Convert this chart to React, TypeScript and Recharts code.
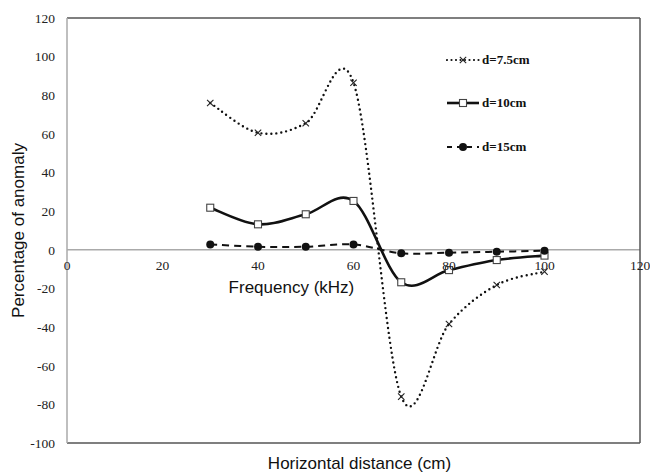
import {
	LineChart,
	Line,
	XAxis,
	YAxis,
	ReferenceLine,
	ReferenceDot,
} from 'recharts';

// frequency points along the horizontal axis
const freqs = [30, 40, 50, 60, 70, 80, 90, 100];
// percentage of anomaly for each depth
const d75 = [76, 60.6, 65.5, 86.5, -76, -38.4, -18.2, -11.3];
const d10 = [21.8, 13.2, 18.4, 25.3, -16.8, -10.5, -5.3, -3];
const d15 = [2.8, 1.6, 1.6, 2.8, -1.8, -1.5, -1, -0.5];

const seriesNames = ['d=7.5cm', 'd=10cm', 'd=15cm'];
const xTicks = [0, 20, 40, 60, 80, 100, 120];
const yTicks = [-100, -80, -60, -40, -20, 0, 20, 40, 60, 80, 100, 120];

const chartData = freqs.map((f, i) => ({
	freq: f,
	d75: d75[i],
	d10: d10[i],
	d15: d15[i],
}));

const serif = '"Liberation Serif", "Times New Roman", serif';
const sans = '"Liberation Sans", Arial, sans-serif';

// Excel style smoothed line: bezier with control points at 1/6 of neighbour span
function excelCurve(context: any) {
	let xs: number[] = [];
	let ys: number[] = [];
	return {
		areaStart() {},
		areaEnd() {},
		lineStart() {
			xs = [];
			ys = [];
		},
		point(x: number, y: number) {
			xs.push(+x);
			ys.push(+y);
		},
		lineEnd() {
			const n = xs.length;
			if (!n) return;
			context.moveTo(xs[0], ys[0]);
			for (let i = 0; i < n - 1; i++) {
				const a = Math.max(i - 1, 0);
				const b = Math.min(i + 2, n - 1);
				context.bezierCurveTo(
					xs[i] + (xs[i + 1] - xs[a]) / 6,
					ys[i] + (ys[i + 1] - ys[a]) / 6,
					xs[i + 1] - (xs[b] - xs[i]) / 6,
					ys[i + 1] - (ys[b] - ys[i]) / 6,
					xs[i + 1],
					ys[i + 1]
				);
			}
		},
	};
}

const CrossDot = (props: any) => {
	const { cx, cy } = props;
	if (cx == null || cy == null) return null;
	const s = 3.2;
	return (
		<g key={`x-${props.index}`}>
			<line x1={cx - s} y1={cy - s} x2={cx + s} y2={cy + s} stroke="#222" strokeWidth={1.1} />
			<line x1={cx - s} y1={cy + s} x2={cx + s} y2={cy - s} stroke="#222" strokeWidth={1.1} />
		</g>
	);
};

const SquareDot = (props: any) => {
	const { cx, cy } = props;
	if (cx == null || cy == null) return null;
	return (
		<rect
			key={`s-${props.index}`}
			x={cx - 3.5}
			y={cy - 3.5}
			width={7}
			height={7}
			fill="#fff"
			stroke="#444"
			strokeWidth={1.1}
		/>
	);
};

const CircleDot = (props: any) => {
	const { cx, cy } = props;
	if (cx == null || cy == null) return null;
	return <circle key={`c-${props.index}`} cx={cx} cy={cy} r={4} fill="#111" />;
};

const legendStyle = [
	{ dash: '0 4.5', width: 2.2, cap: 'round', Marker: CrossDot },
	{ dash: undefined, width: 2.6, cap: 'butt', Marker: SquareDot },
	{ dash: '5 5', width: 2, cap: 'butt', Marker: CircleDot },
];

const ChartLegend = () => (
	<div
		style={{
			position: 'absolute',
			left: 446,
			top: 38,
			fontFamily: serif,
			fontWeight: 'bold',
			fontSize: 13,
			color: '#111',
		}}
	>
		{seriesNames.map((name, i) => {
			const st = legendStyle[i];
			const M = st.Marker;
			return (
				<div key={name} style={{ display: 'flex', alignItems: 'center', height: 43.5 }}>
					<svg width={34} height={12} style={{ marginRight: 2 }}>
						<line
							x1={1}
							x2={33}
							y1={6}
							y2={6}
							stroke="#111"
							strokeWidth={st.width}
							strokeDasharray={st.dash}
							strokeLinecap={st.cap as any}
						/>
						<M cx={17} cy={6} index={0} />
					</svg>
					<span>{name}</span>
				</div>
			);
		})}
	</div>
);

export default function App() {
	return (
		<div style={{ position: 'absolute', left: 0, top: 0, width: 650, height: 472, background: '#fff' }}>
			<LineChart
				width={650}
				height={472}
				data={chartData}
				margin={{ top: 18, right: 10, bottom: 0, left: 0 }}
			>
				<XAxis
					dataKey="freq"
					type="number"
					domain={[0, 120]}
					ticks={xTicks}
					tick={false}
					tickLine={false}
					height={29}
					stroke="#555"
					axisLine={{ stroke: '#555', strokeWidth: 1.5 }}
					label={{
						value: 'Horizontal distance (cm)',
						position: 'insideBottom',
						offset: 3,
						dx: 6,
						style: { fontFamily: sans, fontSize: 17, fill: '#111' },
					}}
				/>
				<YAxis
					type="number"
					domain={[-100, 120]}
					ticks={yTicks}
					width={67}
					tickLine={false}
					tickSize={0}
					tickMargin={12}
					axisLine={{ stroke: '#aaa', strokeWidth: 1.5 }}
					tick={{ fontFamily: serif, fontSize: 13.5, fill: '#222' }}
					label={{
						value: 'Percentage of anomaly',
						angle: -90,
						position: 'insideLeft',
						offset: 18,
						style: { fontFamily: sans, fontSize: 17, fill: '#111', textAnchor: 'middle' },
					}}
				/>
				<ReferenceLine y={0} stroke="#aaa" strokeWidth={1.5} />
				<ReferenceLine y={120} stroke="#555" strokeWidth={1.5} />
				<ReferenceLine x={120} stroke="#555" strokeWidth={1.5} />
				{xTicks.map((t) => (
					<ReferenceDot
						key={`xt-${t}`}
						x={t}
						y={0}
						r={0}
						fill="none"
						stroke="none"
						label={{
							value: String(t),
							position: 'bottom',
							offset: 11,
							style: { fontFamily: serif, fontSize: 13.5, fill: '#222' },
						}}
					/>
				))}
				<ReferenceDot
					x={47}
					y={-19.3}
					r={0}
					fill="none"
					stroke="none"
					label={{
						value: 'Frequency (kHz)',
						position: 'center',
						style: { fontFamily: sans, fontSize: 17, fill: '#111' },
					}}
				/>
				<Line
					name={seriesNames[0]}
					dataKey="d75"
					type={excelCurve as any}
					stroke="#111"
					strokeWidth={2.4}
					strokeDasharray="0 5"
					strokeLinecap="round"
					dot={CrossDot}
					activeDot={false}
					isAnimationActive={false}
				/>
				<Line
					name={seriesNames[1]}
					dataKey="d10"
					type={excelCurve as any}
					stroke="#111"
					strokeWidth={2.6}
					dot={SquareDot}
					activeDot={false}
					isAnimationActive={false}
				/>
				<Line
					name={seriesNames[2]}
					dataKey="d15"
					type={excelCurve as any}
					stroke="#111"
					strokeWidth={2}
					strokeDasharray="7 5"
					dot={CircleDot}
					activeDot={false}
					isAnimationActive={false}
				/>
			</LineChart>
			<ChartLegend />
		</div>
	);
}
